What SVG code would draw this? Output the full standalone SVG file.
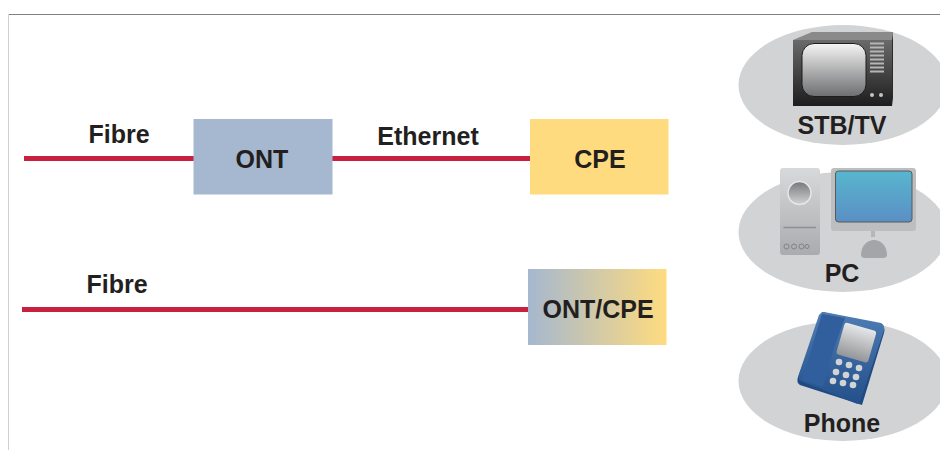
<svg xmlns="http://www.w3.org/2000/svg" width="940" height="450" viewBox="0 0 940 450">
<style>
text{font-family:"Liberation Sans",Arial,sans-serif;font-weight:700;fill:#231f20;text-anchor:middle}
.l{font-size:25px}
.e{fill:#d1d3d4}
.w{fill:#c8203f}
</style>
<defs>
<linearGradient id="g1"><stop offset="0" stop-color="#a5b8cf"/><stop offset="1" stop-color="#ffdb7f"/></linearGradient>
<linearGradient id="scr" x1="0" y1="0" x2="0" y2="1"><stop offset="0" stop-color="#f4f4f4"/><stop offset="1" stop-color="#6d6e70"/></linearGradient>
<linearGradient id="tvb" x1="0" y1="0" x2="0" y2="1"><stop offset="0" stop-color="#6a6a6a"/><stop offset="1" stop-color="#1d1d1d"/></linearGradient>
<linearGradient id="mon" x1="0" y1="0" x2="0" y2="1"><stop offset="0" stop-color="#58b6cf"/><stop offset="1" stop-color="#5a8fc4"/></linearGradient>
<linearGradient id="tow" x1="0" y1="0" x2="0" y2="1"><stop offset="0" stop-color="#d8d9da"/><stop offset="1" stop-color="#a9abae"/></linearGradient>
<linearGradient id="knob" x1="0" y1="0" x2="0" y2="1"><stop offset="0" stop-color="#77787b"/><stop offset="1" stop-color="#d1d3d4"/></linearGradient>
<linearGradient id="ph" x1="0" y1="0" x2="0" y2="1"><stop offset="0" stop-color="#4f7db4"/><stop offset="1" stop-color="#234f8a"/></linearGradient>
<linearGradient id="phs" x1="0" y1="0" x2="0" y2="1"><stop offset="0" stop-color="#e6e7e8"/><stop offset="1" stop-color="#939598"/></linearGradient>
</defs>
<rect width="940" height="450" fill="#fff"/>
<path d="M8.500 450V14.500H940" fill="none" stroke="#d0d0d0"/>
<path d="M9 14.500H940" stroke="#808080" fill="none"/>
<g id="connectors">
<rect class="w" x="24" y="156" width="170" height="5"/>
<rect class="w" x="331" y="156" width="200" height="5"/>
<rect class="w" x="22" y="307" width="507" height="5"/>
</g>
<g id="label-fibre-1"><text class="l" x="119" y="143">Fibre</text></g>
<g id="label-ethernet"><text class="l" x="428" y="145">Ethernet</text></g>
<g id="label-fibre-2"><text class="l" x="117" y="293">Fibre</text></g>
<g id="ont"><rect x="193.500" y="119" width="139" height="75.500" fill="#a5b8cf"/><text class="l" x="262" y="168">ONT</text></g>
<g id="cpe"><rect x="530" y="119" width="138.500" height="75.500" fill="#ffdb7f"/><text class="l" x="600" y="168">CPE</text></g>
<g id="ont-cpe"><rect x="528" y="269" width="138.500" height="76" fill="url(#g1)"/><text class="l" x="598" y="318">ONT/CPE</text></g>
<g id="stb-tv">
<ellipse class="e" cx="843" cy="85" rx="104.500" ry="60"/>
<path d="M793 40L812 32H893L892 40Z" fill="#8a8a8a"/>
<path d="M892 40L893 32V98L892 106Z" fill="#2b2b2b"/>
<rect x="793" y="40" width="99" height="66" fill="url(#tvb)"/>
<rect x="802" y="43.500" width="64" height="53" rx="12" fill="url(#scr)" stroke="#1d1d1d"/>
<path d="M870 43.500h14M870 47.500h14M870 51.500h14M870 55.500h14M870 59.500h14M870 63.500h14M870 67.500h14M870 71.500h14" stroke="#b5b5b5" stroke-width="2" fill="none"/>
<circle cx="872" cy="95" r="2" fill="#c4c4c4"/><circle cx="881" cy="95" r="2" fill="#c4c4c4"/>
<text class="l" x="842" y="134">STB/TV</text>
</g>
<g id="pc">
<ellipse class="e" cx="843" cy="232" rx="104.500" ry="60"/>
<rect x="780" y="168" width="40" height="87" rx="3" fill="url(#tow)"/>
<circle cx="799.500" cy="193" r="11.500" fill="url(#knob)" stroke="#e6e7e8" stroke-width="1.500"/>
<path d="M783.500 227.500H816" stroke="#8f9194" stroke-width="1.500" fill="none"/>
<g fill="none" stroke="#808285"><circle cx="786.500" cy="246.500" r="2.500"/><circle cx="794" cy="246.500" r="2.500"/><circle cx="801.500" cy="246.500" r="2.500"/><circle cx="807" cy="246.500" r="2"/></g>
<path d="M871 228h4v9h-4z" fill="#b4b6b8"/>
<path d="M861 255c0-10 7-15 13-15s13 5 13 15c0 2-2 3-4 3h-18c-2 0-4-1-4-3z" fill="#a3a5a8"/>
<rect x="831" y="168" width="85" height="63" rx="3" fill="#bcbec0"/>
<rect x="835.500" y="171" width="76.500" height="51" rx="3" fill="url(#mon)" stroke="#58595b"/>
<text class="l" x="842" y="282">PC</text>
</g>
<g id="phone">
<ellipse class="e" cx="843" cy="381" rx="104.500" ry="60"/>
<path d="M822 312L880 324Q886 326 884 333L862 405L800 385Q796 382 798 377Z" fill="#1f4a83"/>
<path d="M824 312L881 323Q885 325 884 330L860 402Q858 405 855 403L801 381Q797 379 799 374L819 315Q821 312 824 312Z" fill="url(#ph)"/>
<path d="M822 314L845 318L835 345L823 387L802 380Z" fill="#315f9d"/>
<rect x="840" y="326" width="33" height="33" rx="3" transform="rotate(16 856 342)" fill="url(#phs)"/>
<g fill="#d1d3d4"><circle cx="839" cy="362" r="3.300"/><circle cx="849" cy="365" r="3.300"/><circle cx="859" cy="368" r="3.300"/><circle cx="836" cy="372" r="3.300"/><circle cx="846" cy="375" r="3.300"/><circle cx="856" cy="377" r="3.300"/><circle cx="833" cy="381" r="3.300"/><circle cx="843" cy="383" r="3.300"/><circle cx="853" cy="385" r="3.300"/></g>
<text class="l" x="842" y="432">Phone</text>
</g>
</svg>
